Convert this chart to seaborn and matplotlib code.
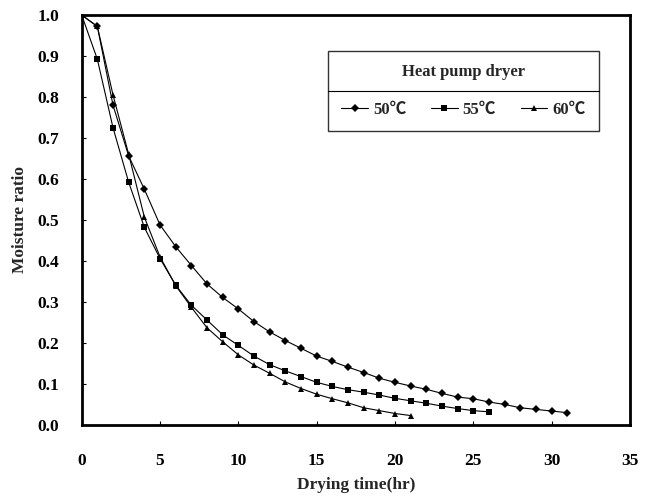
import numpy as np
import pandas as pd
import seaborn as sns
import matplotlib
matplotlib.use('Agg')
import matplotlib.pyplot as plt
from matplotlib.lines import Line2D

# drying data (moisture ratio vs hours)
mr_50 = [1.0, 0.972, 0.78, 0.656, 0.575, 0.488, 0.435, 0.389, 0.344, 0.311, 0.283,
         0.252, 0.227, 0.206, 0.187, 0.168, 0.155, 0.141, 0.128, 0.114, 0.104,
         0.095, 0.087, 0.077, 0.068, 0.064, 0.056, 0.050, 0.042, 0.038, 0.034, 0.030]
mr_55 = [1.0, 0.892, 0.725, 0.592, 0.482, 0.406, 0.341, 0.292, 0.256, 0.220, 0.194,
         0.168, 0.147, 0.132, 0.118, 0.104, 0.094, 0.086, 0.080, 0.073, 0.065,
         0.059, 0.053, 0.046, 0.040, 0.035, 0.032]
mr_60 = [1.0, 0.972, 0.805, 0.660, 0.507, 0.410, 0.340, 0.287, 0.237, 0.203, 0.171,
         0.146, 0.126, 0.105, 0.089, 0.075, 0.064, 0.054, 0.042, 0.035, 0.028, 0.023]
temps = ['50\u2103', '55\u2103', '60\u2103']
markers = ['D', 's', '^']
msizes = [4, 4.5, 5]

frames = []
for t, mr in zip(temps, [mr_50, mr_55, mr_60]):
    frames.append(pd.DataFrame({'time': np.arange(len(mr)), 'mr': mr, 'temp': t}))
df = pd.concat(frames, ignore_index=True)

sns.set_style('ticks')
plt.rcParams['font.family'] = ['Liberation Serif', 'Noto Sans CJK SC', 'DejaVu Serif']
plt.rcParams['font.weight'] = 'bold'
plt.rcParams['axes.labelweight'] = 'bold'

fig = plt.figure(figsize=(6.55, 4.98), dpi=100)
ax = fig.add_axes([0.1247, 0.1466, 0.8373, 0.8233])

for t, m, ms in zip(temps, markers, msizes):
    sns.lineplot(data=df[df['temp'] == t], x='time', y='mr', ax=ax, color='black',
                 marker=m, markersize=ms, markeredgewidth=0, linewidth=0.8,
                 legend=False)

ax.set_xlim(0, 35)
ax.set_ylim(0, 1.0)
ax.set_xticks(np.arange(0, 36, 5))
ax.set_yticks(np.arange(0, 1.01, 0.1))
ax.set_yticklabels(['%.1f' % v for v in np.arange(0, 1.01, 0.1)])
ax.tick_params(direction='in', length=3, width=0.8, colors='black', labelsize=12.5)
ax.tick_params(axis='x', pad=20)
ax.tick_params(axis='y', pad=16)
for s in ax.spines.values():
    s.set_linewidth(2)
    s.set_color('black')
ax.set_xlabel('Drying time(hr)', fontsize=12.5, labelpad=6)
ax.set_ylabel('Moisture ratio', fontsize=12.5, labelpad=7)

handles = [Line2D([], [], color='black', marker=m, markersize=ms, markeredgewidth=0,
                  linewidth=0.8) for m, ms in zip(markers, msizes)]
leg = ax.legend(handles, temps, ncol=3, title='Heat pump dryer', loc='upper left',
                bbox_to_anchor=(0.449, 0.712, 0.494, 0.201), mode='expand',
                frameon=True, fancybox=False, edgecolor='black', fontsize=12,
                title_fontsize=12, handlelength=1.6, handletextpad=0.3,
                borderpad=0.8, labelspacing=1.3, columnspacing=1.0, borderaxespad=0)
leg.get_frame().set_linewidth(1.0)
leg.get_title().set_fontweight('bold')

# line under the legend title
fig.canvas.draw()
inv = ax.transAxes.inverted()
lb = leg.get_window_extent().transformed(inv)
tb = leg.get_title().get_window_extent().transformed(inv)
eb = leg.get_texts()[0].get_window_extent().transformed(inv)
ysep = (tb.y0 + eb.y1) / 2
ax.add_line(Line2D([lb.x0, lb.x1], [ysep, ysep], transform=ax.transAxes,
                   color='black', linewidth=0.8, zorder=10))

fig.savefig('out.png', dpi=100)
